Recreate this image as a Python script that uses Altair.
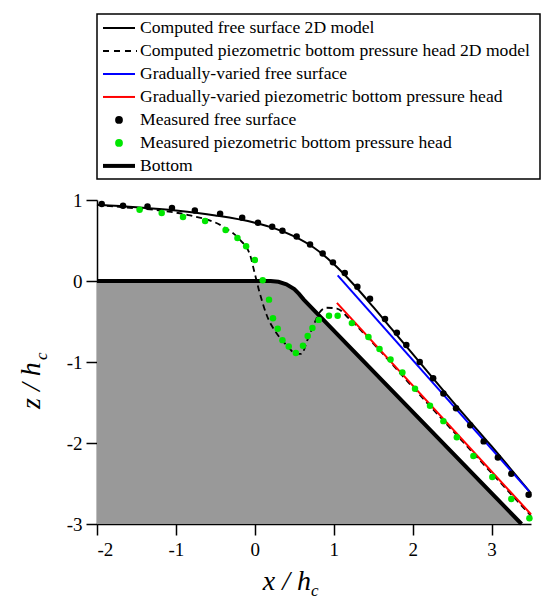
import altair as alt
import pandas as pd

# ---------------- data ----------------
# Bottom profile (x/hc, z/hc)
bottom_x = [-2.0, 0.0, 0.2, 0.3, 0.4, 0.5, 0.56, 0.62, 3.38]
bottom_z = [0.0, 0.0, 0.0, -0.01, -0.04, -0.1, -0.16, -0.23, -3.0]

# Computed free surface 2D model
fs2d_x = [-2.0, -1.5, -1.0, -0.5, 0.0, 0.25, 0.5, 0.75, 1.0, 1.25, 1.5, 1.75, 2.0, 2.5, 3.0, 3.5]
fs2d_z = [0.94, 0.91, 0.87, 0.81, 0.72, 0.65, 0.55, 0.41, 0.21, -0.04, -0.32, -0.61, -0.9, -1.48, -2.04, -2.62]

# Computed piezometric bottom pressure head 2D model
pz2d_x = [-2.0, -1.67, -1.2, -0.82, -0.4, -0.19, -0.06, 0.0, 0.06, 0.15, 0.28, 0.4, 0.53, 0.59,
          0.67, 0.76, 0.82, 0.91, 1.04, 1.2, 1.5, 2.0, 2.5, 3.0, 3.5]
pz2d_z = [0.94, 0.91, 0.87, 0.81, 0.67, 0.51, 0.32, 0.09, -0.14, -0.42, -0.65, -0.79, -0.9, -0.9,
          -0.72, -0.51, -0.39, -0.33, -0.34, -0.47, -0.77, -1.31, -1.84, -2.37, -2.9]

# Gradually-varied free surface
gvfs_x = [1.05, 3.48]
gvfs_z = [0.07, -2.6]

# Gradually-varied piezometric bottom pressure head
gvpz_x = [1.04, 3.5]
gvpz_z = [-0.27, -2.88]

# Measured free surface
mfs_x = [-1.94, -1.67, -1.36, -1.05, -0.76, -0.44, -0.16, 0.04, 0.22, 0.35, 0.53, 0.70, 0.86, 0.99,
         1.14, 1.30, 1.46, 1.65, 1.80, 1.92, 2.09, 2.26, 2.39, 2.55, 2.73, 2.90, 3.08, 3.25, 3.47]
mfs_z = [0.95, 0.93, 0.92, 0.90, 0.87, 0.83, 0.78, 0.72, 0.67, 0.62, 0.55, 0.45, 0.34, 0.23,
         0.10, -0.07, -0.22, -0.47, -0.64, -0.79, -1.0, -1.2, -1.39, -1.57, -1.78, -1.98, -2.18, -2.38, -2.64]

# Measured piezometric bottom pressure head
mpz_x = [-1.46, -1.18, -0.91, -0.63, -0.37, -0.22, -0.11, 0.0, 0.10, 0.18, 0.23, 0.29, 0.35, 0.43,
         0.52, 0.61, 0.67, 0.73, 0.81, 0.94, 1.05, 1.23, 1.44, 1.58, 1.72, 1.87, 2.03, 2.22, 2.39,
         2.56, 2.77, 3.01, 3.25, 3.48]
mpz_z = [0.88, 0.84, 0.79, 0.74, 0.63, 0.53, 0.43, 0.26, 0.01, -0.23, -0.46, -0.59, -0.73, -0.81,
         -0.89, -0.80, -0.68, -0.58, -0.48, -0.43, -0.43, -0.52, -0.69, -0.84, -0.97, -1.13, -1.33,
         -1.54, -1.73, -1.93, -2.16, -2.42, -2.69, -2.93]

x_domain = [-2, 3.5]
y_domain = [-3, 1]
x_ticks = [-2, -1, 0, 1, 2, 3]
y_ticks = [-3, -2, -1, 0, 1]

legend_labels = [
    "Computed free surface 2D model",
    "Computed piezometric bottom pressure head 2D model",
    "Gradually-varied free surface",
    "Gradually-varied piezometric bottom pressure head",
    "Measured free surface",
    "Measured piezometric bottom pressure head",
    "Bottom",
]

FONT = "Liberation Serif"
W, H = 434, 324
GREEN = "#00e600"

def df(xs, zs):
    return pd.DataFrame({"x": xs, "z": zs, "o": list(range(len(xs)))})

xs = alt.Scale(domain=x_domain, nice=False, zero=False)
ys = alt.Scale(domain=y_domain, nice=False, zero=False)

axis_common = dict(grid=False, title=None, ticks=True, tickSize=11, domainWidth=1.5, tickWidth=1.5,
                   domainColor="black", tickColor="black", labelFont=FONT, labelFontSize=19,
                   labelColor="black", labelExpr="'' + datum.value")
xenc = alt.X("x:Q", scale=xs, axis=alt.Axis(values=x_ticks, labelPadding=5, **axis_common))
yenc = alt.Y("z:Q", scale=ys, axis=alt.Axis(values=y_ticks, labelPadding=4, **axis_common))

bdf = df(bottom_x, bottom_z)
bdf["base"] = y_domain[0]

area = alt.Chart(bdf).mark_area(color="#999999", opacity=1, fillOpacity=1).encode(
    x=xenc, y=yenc, y2=alt.Y2("base:Q"))

bottom = alt.Chart(bdf).mark_line(color="black", strokeWidth=4).encode(
    x="x:Q", y="z:Q", order="o:Q")

fs2d = alt.Chart(df(fs2d_x, fs2d_z)).mark_line(color="black", strokeWidth=2, interpolate="monotone").encode(
    x="x:Q", y="z:Q", order="o:Q")

pz2d = alt.Chart(df(pz2d_x, pz2d_z)).mark_line(color="black", strokeWidth=1.8, strokeDash=[6, 4],
                                               interpolate="monotone").encode(
    x="x:Q", y="z:Q", order="o:Q")

gvfs = alt.Chart(df(gvfs_x, gvfs_z)).mark_line(color="#0000ff", strokeWidth=2).encode(
    x="x:Q", y="z:Q", order="o:Q")

gvpz = alt.Chart(df(gvpz_x, gvpz_z)).mark_line(color="#ff0000", strokeWidth=2).encode(
    x="x:Q", y="z:Q", order="o:Q")

mfs = alt.Chart(df(mfs_x, mfs_z)).mark_circle(color="black", size=42, opacity=1).encode(
    x="x:Q", y="z:Q")

mpz = alt.Chart(df(mpz_x, mpz_z)).mark_circle(color=GREEN, size=42, opacity=1).encode(
    x="x:Q", y="z:Q")

# axis titles (italic, with subscript c)
def txt(t, size, align, angle, x, y):
    kw = dict(font=FONT, fontSize=size, fontStyle="italic", align=align,
              baseline="alphabetic", color="black")
    if angle:
        kw["angle"] = angle
    return alt.Chart(pd.DataFrame({"t": [t]})).mark_text(**kw).encode(
        text="t:N", x=alt.value(x), y=alt.value(y))

xt = txt("x / h", 28, "right", 0, 214, H + 66)
xsub = txt("c", 17, "left", 0, 214, H + 72)
yt = txt("z / h", 28, "left", 270, -57, 209)
ysub = txt("c", 17, "left", 270, -50, 160)

main = alt.layer(area, bottom, pz2d, fs2d, gvfs, gvpz, mfs, mpz, xt, xsub, yt, ysub).properties(
    width=W, height=H)

# ---------------- legend ----------------
leg = pd.DataFrame({"i": list(range(len(legend_labels))), "label": legend_labels})
LW, LH = 443, 165
ly = alt.Y("i:Q", scale=alt.Scale(domain=[-0.61, 6.57], reverse=True, nice=False, zero=False), axis=None)

def lrow(k):
    return alt.Chart(leg[leg.i == k])

leg_text = alt.Chart(leg).mark_text(font=FONT, fontSize=17.6, align="left", baseline="middle",
                                    color="black").encode(
    x=alt.value(43), y=ly, text="label:N")
l0 = lrow(0).mark_rule(color="black", strokeWidth=2).encode(x=alt.value(6), x2=alt.value(38), y=ly)
l1 = lrow(1).mark_rule(color="black", strokeWidth=2, strokeDash=[6, 5]).encode(
    x=alt.value(6), x2=alt.value(40), y=ly)
l2 = lrow(2).mark_rule(color="#0000ff", strokeWidth=2).encode(x=alt.value(6), x2=alt.value(38), y=ly)
l3 = lrow(3).mark_rule(color="#ff0000", strokeWidth=2).encode(x=alt.value(6), x2=alt.value(38), y=ly)
l4 = lrow(4).mark_circle(color="black", size=60, opacity=1).encode(x=alt.value(22), y=ly)
l5 = lrow(5).mark_circle(color=GREEN, size=60, opacity=1).encode(x=alt.value(22), y=ly)
l6 = lrow(6).mark_rule(color="black", strokeWidth=4).encode(x=alt.value(6), x2=alt.value(38), y=ly)

legend = alt.layer(l0, l1, l2, l3, l4, l5, l6, leg_text).properties(
    width=LW, height=LH, view=alt.ViewBackground(stroke="black", strokeWidth=1.5))

chart = alt.vconcat(legend, main, spacing=21, bounds="flush").properties(
    padding={"left": 10, "top": 5, "right": 0, "bottom": 0}
).configure_view(stroke=None)

chart.save("out.html", embed_options={"renderer": "svg", "actions": False})
